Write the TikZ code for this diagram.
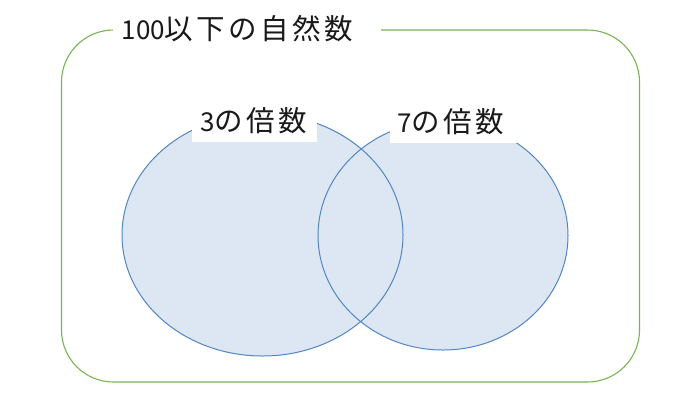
\documentclass[tikz,border=0pt]{standalone}
\usepackage{fontspec}
\newfontfamily\jpfont{Noto Sans CJK JP}
\newfontfamily\jpwide[LetterSpace=12]{Noto Sans CJK JP}
\usetikzlibrary{shapes.geometric}
\definecolor{framegreen}{HTML}{7AB552}
\definecolor{setfill}{HTML}{DDE7F4}
\definecolor{setline}{HTML}{5286C2}
\newcommand\digitsz{\fontsize{26pt}{30pt}\selectfont}
\newcommand\cjksz{\fontsize{28.5pt}{32pt}\selectfont}
\tikzset{
  universebox/.style={draw=framegreen, line width=1.1pt, rounded corners=52pt, inner sep=0pt},
  setfillshape/.style={ellipse, fill=setfill, inner sep=0pt},
  setoutline/.style={ellipse, draw=setline, line width=1pt, inner sep=0pt},
  whitepatch/.style={fill=white, inner sep=0pt},
  labeltext/.style={anchor=base west, inner sep=0pt, text=black!90},
}
\begin{document}
\begin{tikzpicture}[x=1pt,y=-1pt]
\useasboundingbox[fill=white] (0,0) rectangle (700,400);
% universe
\node[universebox, minimum width=578pt, minimum height=352pt] (universe) at (350.5,206) {};
% sets (fills first, then outlines)
\node[setfillshape, minimum width=281pt, minimum height=242pt] (setA) at (262.5,235) {};
\node[setfillshape, minimum width=250pt, minimum height=229pt] (setB) at (443,235.5) {};
\node[setoutline, minimum width=281pt, minimum height=242pt] (setAline) at (setA.center) {};
\node[setoutline, minimum width=250pt, minimum height=229pt] (setBline) at (setB.center) {};
% white patches behind labels
\node[whitepatch, minimum width=268pt, minimum height=36pt] (titlebox) at (247,30) {};
\node[whitepatch, minimum width=125pt, minimum height=46pt] (labelboxA) at (254.5,119) {};
\node[whitepatch, minimum width=127pt, minimum height=47pt] (labelboxB) at (453.5,119.5) {};
% texts
\node[labeltext] (title) at (121.5,39) {\jpfont\digitsz 100\jpwide\cjksz 以下の自然数};
\node[labeltext] (labelA) at (200,131.5) {\jpfont\digitsz 3\jpwide\cjksz の倍数};
\node[labeltext] (labelB) at (397,132) {\jpfont\digitsz 7\jpwide\cjksz の倍数};
\end{tikzpicture}
\end{document}
